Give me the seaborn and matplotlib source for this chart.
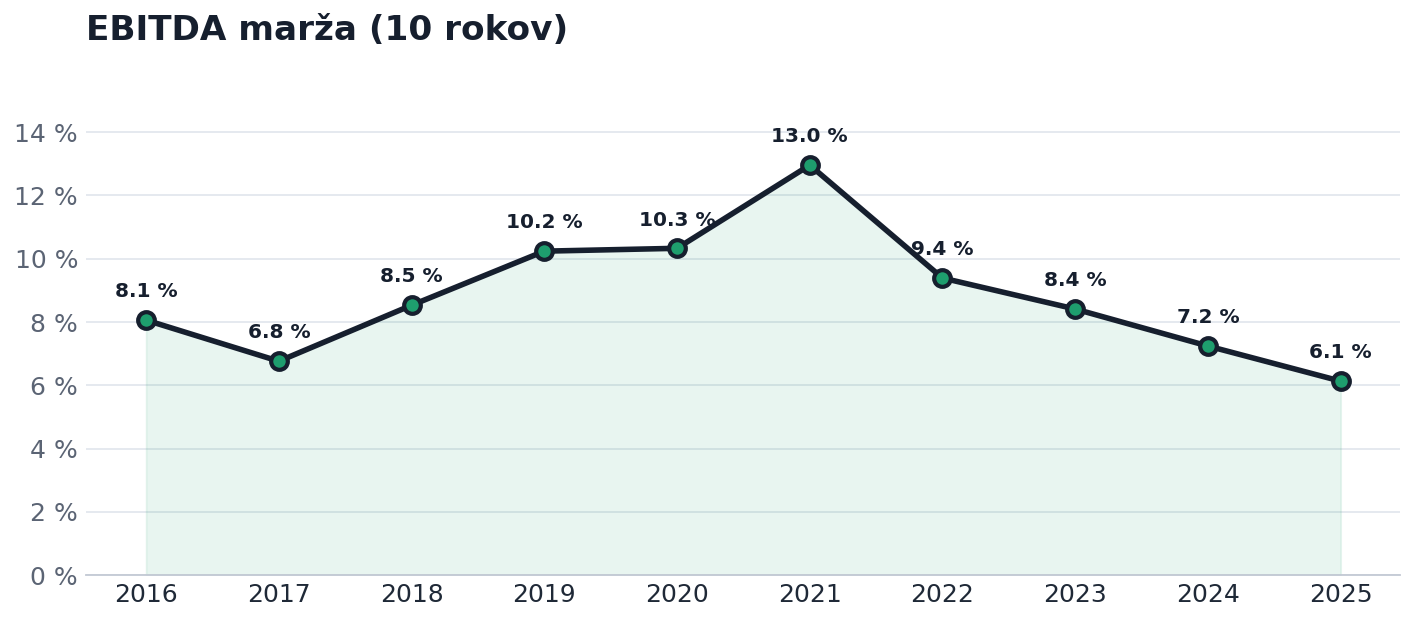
import matplotlib
matplotlib.use("Agg")
import matplotlib.pyplot as plt
import seaborn as sns
import pandas as pd

# data
years = ['2016', '2017', '2018', '2019', '2020', '2021', '2022', '2023', '2024', '2025']
margin = [8.06, 6.76, 8.53, 10.24, 10.33, 12.96, 9.39, 8.41, 7.24, 6.13]
labels = ['8.1 %', '6.8 %', '8.5 %', '10.2 %', '10.3 %', '13.0 %', '9.4 %', '8.4 %', '7.2 %', '6.1 %']

df = pd.DataFrame({'x': range(len(years)), 'y': margin})

sns.set_style("white")
plt.rcParams['font.family'] = ['DejaVu Sans']

dark = '#161f2e'
green = '#1e9e6e'

fig, ax = plt.subplots(figsize=(14.16, 6.21), dpi=100)
fig.subplots_adjust(left=0.061, right=0.989, top=0.838, bottom=0.074)

ax.fill_between(df['x'], 0, df['y'], color=green, alpha=0.1, linewidth=1.2,
                edgecolor=(0.12, 0.62, 0.43, 0.15), zorder=1)
sns.lineplot(data=df, x='x', y='y', ax=ax, color=dark, linewidth=4,
             marker='o', markersize=12, markerfacecolor=green,
             markeredgecolor=dark, markeredgewidth=3, zorder=3)

for i, lab in enumerate(labels):
    ax.annotate(lab, (i, margin[i]), xytext=(0, 13.5), textcoords='offset points',
                ha='center', va='bottom', fontsize=14.5, fontweight='bold', color=dark)

ax.set_xlim(-0.45, 9.45)
ax.set_ylim(0, 15)
ax.set_xticks(range(len(years)))
ax.set_xticklabels(years)
ax.set_yticks(range(0, 15, 2))
ax.set_yticklabels([f'{v} %' for v in range(0, 15, 2)])
ax.tick_params(axis='x', labelsize=18, colors='#1f2937', length=0, pad=6)
ax.tick_params(axis='y', labelsize=18, colors='#5b6474', length=0, pad=6)
ax.grid(axis='y', color='#e3e7ee', linewidth=1.3)
ax.set_axisbelow(True)
for s in ['top', 'right', 'left']:
    ax.spines[s].set_visible(False)
ax.spines['bottom'].set_color('#c3c9d4')
ax.spines['bottom'].set_linewidth(1.3)
ax.set_xlabel('')
ax.set_ylabel('')

fig.text(0.061, 0.925, 'EBITDA marža (10 rokov)', fontsize=24.7, fontweight='bold',
         color=dark, ha='left', va='bottom')

fig.savefig('out.png', dpi=100)
